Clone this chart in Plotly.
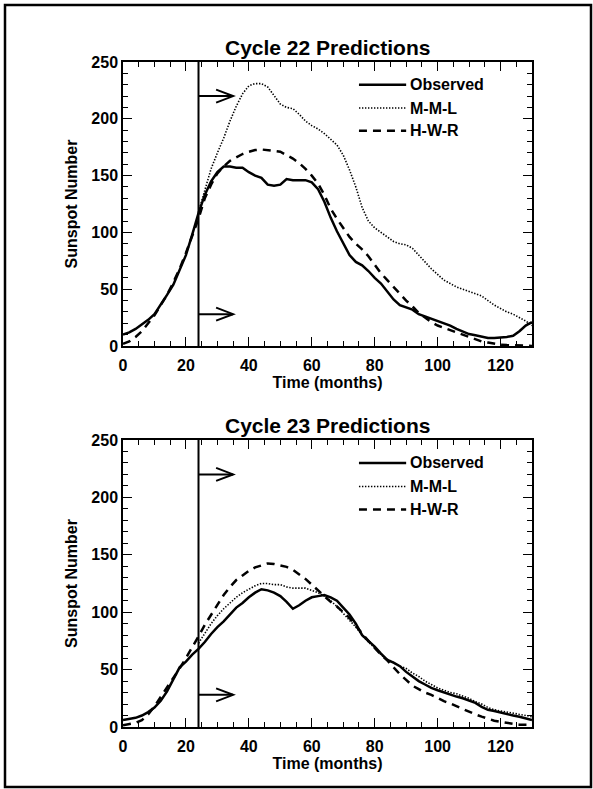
import plotly.graph_objects as go

# ---------------------------------------------------------------- data
months = list(range(0, 131, 2))          # 0 .. 130, every 2 months
months_mml = list(range(24, 131, 2))     # M-M-L prediction starts at month 24

cycle22_observed = [10, 12, 15, 19, 23, 28, 36, 45, 54, 67,
                    80, 98, 117, 133, 145, 153, 158, 158, 157, 157,
                    153, 150, 148, 142, 141, 142, 147, 146, 146, 146,
                    144, 138, 127, 113, 101, 91, 80, 74, 71, 66,
                    60, 55, 48, 41, 36, 34, 32, 28, 26, 24,
                    22.5, 20, 18, 15, 12.5, 10.5, 9.5, 8.5, 7, 7,
                    7.2, 8, 9, 13, 18, 21]
cycle22_mml = [118, 137, 156, 170, 183, 198, 211, 222, 229, 231,
               231, 228, 221, 213, 210, 209, 204, 198, 194, 191,
               187, 182, 177, 168, 155, 140, 122, 110, 104, 100,
               96, 92, 90, 89, 86, 80, 74, 68, 63, 58,
               55, 52, 50, 48, 46, 44, 40, 36, 33, 30,
               28, 25, 22, 18]
cycle22_hwr = [2, 4, 8, 13, 20, 27, 36, 45, 56, 68,
               82, 97, 112, 130, 142, 152, 158, 163, 166, 169,
               171, 172.5, 173, 172.5, 172, 171, 168, 165, 161, 156,
               150, 143, 133, 121, 112, 104, 96, 90, 85, 79,
               71, 64, 58, 52, 46, 40, 35, 29, 25, 21,
               18, 16, 14, 11.5, 9.5, 7.5, 5.5, 4, 3, 2,
               1.2, 0.8, 0.5, 0.3, 0.2, 0.1]

cycle23_observed = [6, 7, 8, 10, 13, 17, 23, 31, 41, 52,
                    57, 63, 68, 74, 81, 87, 92, 98, 104, 108,
                    113, 117, 120, 119, 117, 114, 109, 103, 106, 110,
                    113, 114, 115, 113, 110, 104, 98, 90, 80, 75,
                    70, 64, 58.5, 56, 53, 48, 44, 40, 37, 34,
                    32, 30, 28, 26.5, 25, 23, 21, 17.5, 15, 14,
                    12.5, 11.5, 10, 9, 7.5, 6]
cycle23_mml = [73, 82, 90, 97, 103, 108, 113, 117, 120, 123,
               125, 125, 124, 124, 122, 121, 121, 121, 119, 117,
               114, 110, 105, 99, 93, 87, 80, 74, 69, 63,
               59, 56, 53, 51, 47, 44, 40, 37, 34, 32,
               30, 29, 27, 25, 22, 20, 17, 15, 14, 13,
               12, 11, 10, 9]
cycle23_hwr = [1.5, 2.5, 3.5, 6, 11, 18, 26, 35, 43, 51,
               60, 69, 79, 89, 98, 107, 115, 122, 128, 132,
               136, 139, 141, 142.5, 142, 141, 139.5, 137, 133, 129,
               124, 119, 114, 109, 105, 100, 95, 88, 81, 75,
               69, 63, 58, 52, 46, 41, 36, 33, 30, 28,
               25, 22.5, 20.5, 18, 16, 13.5, 11, 9, 7, 5.5,
               4.5, 3.5, 2.5, 2, 2, 2]

panel_titles = ["Cycle 22 Predictions", "Cycle 23 Predictions"]
series_names = ["Observed", "M-M-L", "H-W-R"]
x_title = "Time (months)"
y_title = "Sunspot Number"
x_range = [0, 130]
y_range = [0, 250]
x_tickvals = [0, 20, 40, 60, 80, 100, 120]
y_tickvals = [0, 50, 100, 150, 200, 250]
prediction_start = 24          # month when the predictions are made
arrow_end = 35
arrow_levels = [220, 28]
legend_rows = [230, 209.5, 189.5]
legend_x = [75, 90]

# ---------------------------------------------------------------- layout geometry (pixels)
W, H = 593, 789
M_L, M_R, M_T, M_B = 123, 61, 62, 62
PLOT_W = W - M_L - M_R
PLOT_H = H - M_T - M_B
panel_px = [(62, 346), (440, 727)]      # top / bottom pixel rows of each panel
title_py = [47, 425]

FONT = "Liberation Sans, Arial, Helvetica, sans-serif"


def ypaper(py):
    return (H - M_B - py) / PLOT_H


def xpaper(px):
    return (px - M_L) / PLOT_W


styles = {
    "Observed": dict(color="black", width=2.5, dash="solid"),
    "M-M-L": dict(color="black", width=1.6, dash="1.4px,1.6px"),
    "H-W-R": dict(color="black", width=2.5, dash="8px,6px"),
}

fig = go.Figure()

panels = [
    (months, cycle22_observed, months_mml, cycle22_mml, months, cycle22_hwr),
    (months, cycle23_observed, months_mml, cycle23_mml, months, cycle23_hwr),
]

shapes = []
annotations = []
x_scale = PLOT_W / (x_range[1] - x_range[0])

for i, (xo, yo, xm, ym, xh, yh) in enumerate(panels):
    xa = "x" if i == 0 else f"x{i + 1}"
    ya = "y" if i == 0 else f"y{i + 1}"
    for name, xs, ys in zip(series_names, (xo, xm, xh), (yo, ym, yh)):
        fig.add_trace(go.Scatter(x=xs, y=ys, mode="lines", name=name,
                                 line=styles[name], xaxis=xa, yaxis=ya,
                                 showlegend=False, hoverinfo="x+y"))

    top_px, bot_px = panel_px[i]
    y_scale = (bot_px - top_px) / (y_range[1] - y_range[0])

    # vertical marker at the prediction month
    shapes.append(dict(type="line", xref=xa, yref=ya,
                       x0=prediction_start, x1=prediction_start,
                       y0=y_range[0], y1=y_range[1],
                       line=dict(color="black", width=2)))

    # open arrows pointing forward from the marker
    back = 17 / x_scale
    half = 6.5 / y_scale
    for lvl in arrow_levels:
        shapes.append(dict(type="line", xref=xa, yref=ya,
                           x0=prediction_start, x1=arrow_end, y0=lvl, y1=lvl,
                           line=dict(color="black", width=2)))
        shapes.append(dict(type="path", xref=xa, yref=ya,
                           path=(f"M {arrow_end - back},{lvl + half} "
                                 f"L {arrow_end},{lvl} "
                                 f"L {arrow_end - back},{lvl - half}"),
                           line=dict(color="black", width=2)))

    # legend key drawn inside the panel
    for name, row in zip(series_names, legend_rows):
        shapes.append(dict(type="line", xref=xa, yref=ya,
                           x0=legend_x[0], x1=legend_x[1], y0=row, y1=row,
                           line=styles[name]))
        annotations.append(dict(xref=xa, yref=ya, x=legend_x[1] + 0.7, y=row,
                                text=name, showarrow=False, xanchor="left",
                                yanchor="middle",
                                font=dict(family=FONT, size=16, color="black",
                                          weight="bold")))

    annotations.append(dict(xref="paper", yref="paper", x=0.5,
                            y=ypaper(title_py[i]), text=panel_titles[i],
                            showarrow=False, xanchor="center", yanchor="middle",
                            font=dict(family=FONT, size=21, color="black",
                                      weight="bold")))

# outer frame
shapes.append(dict(type="rect", xref="paper", yref="paper",
                   x0=xpaper(5), x1=xpaper(591), y0=ypaper(787), y1=ypaper(5),
                   line=dict(color="black", width=2.5)))

tick_font = dict(family=FONT, size=16, color="black", weight="bold")
title_font = dict(family=FONT, size=16, color="black", weight="bold")

x_common = dict(range=x_range, tickvals=x_tickvals,
                showline=True, linecolor="black", linewidth=1.5, mirror="ticks",
                ticks="inside", ticklen=9, tickwidth=1.3, tickcolor="black",
                showgrid=False, zeroline=False, tickfont=tick_font,
                ticklabelstandoff=4,
                minor=dict(ticks="inside", dtick=5, tick0=0, ticklen=5,
                           tickwidth=1.2, tickcolor="black", showgrid=False),
                title=dict(text=x_title, font=title_font, standoff=1))
y_common = dict(range=y_range, tickvals=y_tickvals,
                showline=True, linecolor="black", linewidth=1.5, mirror="ticks",
                ticks="inside", ticklen=9, tickwidth=1.3, tickcolor="black",
                showgrid=False, zeroline=False, tickfont=tick_font,
                minor=dict(ticks="inside", dtick=10, tick0=0, ticklen=5,
                           tickwidth=1.2, tickcolor="black", showgrid=False),
                title=dict(text=y_title, font=title_font, standoff=10))

fig.update_layout(
    width=W, height=H,
    margin=dict(l=M_L, r=M_R, t=M_T, b=M_B, autoexpand=False),
    paper_bgcolor="white", plot_bgcolor="white",
    showlegend=False,
    xaxis=dict(domain=[0, 1], anchor="y", **x_common),
    yaxis=dict(domain=[ypaper(panel_px[0][1]), ypaper(panel_px[0][0])],
               anchor="x", **y_common),
    xaxis2=dict(domain=[0, 1], anchor="y2", **x_common),
    yaxis2=dict(domain=[ypaper(panel_px[1][1]), ypaper(panel_px[1][0])],
                anchor="x2", **y_common),
    shapes=shapes,
    annotations=annotations,
)

fig.write_html("out.html")
